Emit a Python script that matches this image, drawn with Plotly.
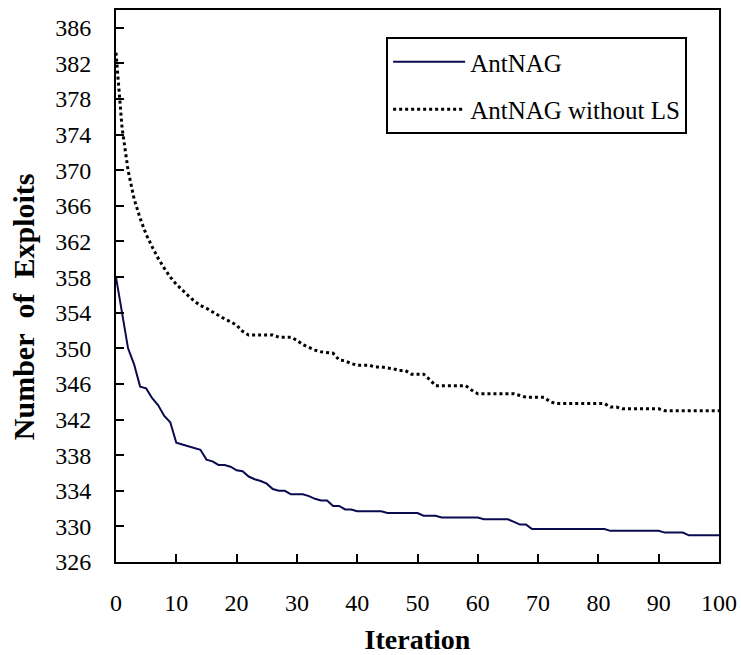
import plotly.graph_objects as go

iterations = list(range(0, 101))

antnag = [
    358.0, 353.8, 350.0, 348.2, 345.7, 345.5, 344.4, 343.6, 342.4, 341.7,
    339.4, 339.2, 339.0, 338.8, 338.6, 337.5, 337.3, 336.9, 336.9, 336.7,
    336.3, 336.2, 335.6, 335.3, 335.1, 334.8, 334.2, 334.0, 334.0, 333.6,
    333.6, 333.6, 333.4, 333.1, 332.9, 332.9, 332.3, 332.3, 331.9, 331.9,
    331.7, 331.7, 331.7, 331.7, 331.7, 331.5, 331.5, 331.5, 331.5, 331.5,
    331.5, 331.2, 331.2, 331.2, 331.0, 331.0, 331.0, 331.0, 331.0, 331.0,
    331.0, 330.8, 330.8, 330.8, 330.8, 330.8, 330.5, 330.2, 330.2, 329.7,
    329.7, 329.7, 329.7, 329.7, 329.7, 329.7, 329.7, 329.7, 329.7, 329.7,
    329.7, 329.7, 329.5, 329.5, 329.5, 329.5, 329.5, 329.5, 329.5, 329.5,
    329.5, 329.3, 329.3, 329.3, 329.3, 329.0, 329.0, 329.0, 329.0, 329.0,
    329.0,
]

antnag_without_ls = [
    383.2, 374.8, 370.0, 366.8, 364.6, 362.8, 361.4, 360.1, 359.0, 358.0,
    357.2, 356.5, 355.9, 355.3, 354.8, 354.5, 354.1, 353.7, 353.3, 353.0,
    352.6, 351.9, 351.5, 351.5, 351.5, 351.5, 351.5, 351.25, 351.25, 351.25,
    350.9, 350.4, 350.1, 349.8, 349.6, 349.5, 349.45, 348.7, 348.6, 348.3,
    348.1, 348.1, 348.1, 347.9, 347.9, 347.8, 347.7, 347.5, 347.5, 347.1,
    347.1, 347.1, 346.5, 345.8, 345.8, 345.8, 345.8, 345.8, 345.8, 345.3,
    344.9, 344.9, 344.9, 344.9, 344.9, 344.9, 344.9, 344.7, 344.5, 344.5,
    344.5, 344.5, 344.0, 343.8, 343.8, 343.8, 343.8, 343.8, 343.8, 343.8,
    343.8, 343.8, 343.4, 343.4, 343.2, 343.2, 343.2, 343.2, 343.2, 343.2,
    343.2, 343.0, 343.0, 343.0, 343.0, 343.0, 343.0, 343.0, 343.0, 343.0,
    343.0,
]

series_names = ["AntNAG", "AntNAG without LS"]
y_ticks = list(range(326, 387, 4))
x_ticks = list(range(0, 101, 10))

FONT = "Liberation Serif"

fig = go.Figure()
fig.add_trace(go.Scatter(
    x=iterations, y=antnag, mode="lines", name=series_names[0],
    legendgroup="a",
    line=dict(color="#0a0a50", width=2),
))
fig.add_trace(go.Scatter(
    x=iterations, y=antnag_without_ls, mode="lines", name=series_names[1],
    legendgroup="b",
    line=dict(color="#000000", width=3, dash="dot"),
))

fig.update_layout(
    width=741, height=655,
    margin=dict(l=116, r=22, t=10, b=93),
    paper_bgcolor="white", plot_bgcolor="white",
    font=dict(family=FONT, color="black", size=24),
    showlegend=True,
    legend=dict(
        x=0.448, y=0.951, xanchor="left", yanchor="top",
        bgcolor="white", bordercolor="black", borderwidth=2,
        font=dict(family=FONT, size=25, color="black"),
        itemwidth=72, tracegroupgap=12, traceorder="grouped",
    ),
    annotations=[dict(
        text="<b>Number\u00a0\u00a0of\u00a0\u00a0Exploits</b>",
        xref="paper", yref="paper", x=-0.153, y=0.463,
        xanchor="center", yanchor="middle", textangle=-90,
        showarrow=False, font=dict(family=FONT, size=30, color="black"),
    )],
)

fig.update_xaxes(
    range=[0, 100], tickmode="array", tickvals=x_ticks,
    showline=True, linecolor="black", linewidth=2, mirror=True,
    ticks="inside", ticklen=8, tickwidth=2, tickcolor="black",
    showgrid=False, zeroline=False, automargin=False,
    tickfont=dict(family=FONT, size=24, color="black"),
    ticklabelstandoff=18,
    title=dict(text="<b>Iteration</b>", font=dict(family=FONT, size=28, color="black"), standoff=22),
)
fig.update_yaxes(
    range=[326, 388], tickmode="array", tickvals=y_ticks,
    showline=True, linecolor="black", linewidth=2, mirror=True,
    ticks="inside", ticklen=8, tickwidth=2, tickcolor="black",
    showgrid=False, zeroline=False, automargin=False,
    tickfont=dict(family=FONT, size=24, color="black"),
    ticklabelstandoff=18,
)

fig.write_html("out.html")
